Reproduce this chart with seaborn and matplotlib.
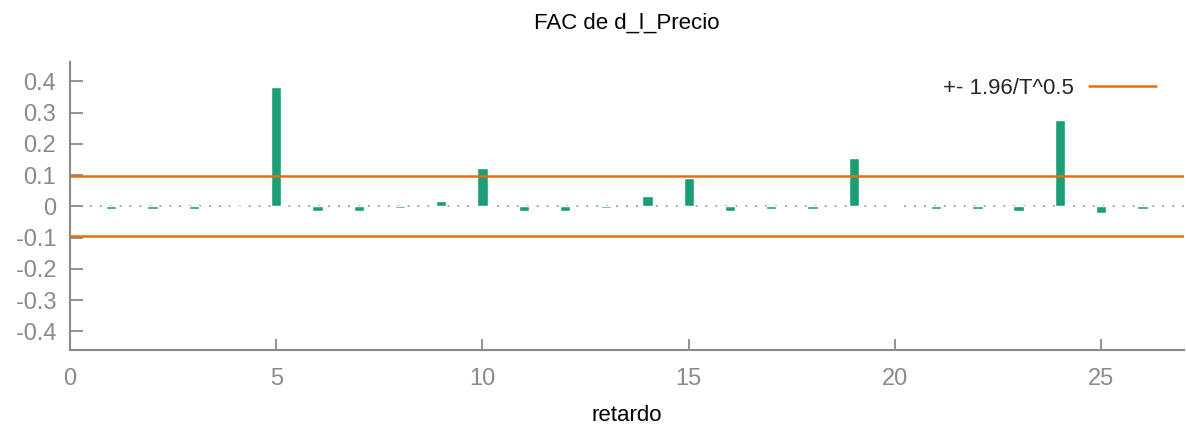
import numpy as np
import pandas as pd
import matplotlib
matplotlib.use('Agg')
import matplotlib.pyplot as plt
import seaborn as sns

# datos de la FAC
lags = list(range(1, 27))
acf = [-0.008, -0.008, -0.009, 0.001, 0.381, -0.015, -0.014, -0.007, 0.018, 0.123,
       -0.014, -0.015, -0.007, 0.033, 0.092, -0.014, -0.008, -0.008, 0.155, 0.004,
       -0.008, -0.008, -0.014, 0.276, -0.021, -0.008]
band = 0.096  # 1.96/T^0.5
xticks = [0, 5, 10, 15, 20, 25]
yticks = [0.4, 0.3, 0.2, 0.1, 0, -0.1, -0.2, -0.3, -0.4]

sns.set_theme(style='white')
plt.rcParams['font.family'] = ['Liberation Sans', 'DejaVu Sans']

df = pd.DataFrame({'lag': lags, 'acf': acf})
green = '#1b9e77'
orange = '#e6700f'
grey = '#8a8a8a'

fig = plt.figure(figsize=(11.86, 4.28), dpi=100)
ax = fig.add_axes([0.059, 0.182, 0.939, 0.672])

ax.axhline(0, color='#999999', lw=1.3, ls=(0, (1, 4.5)), zorder=1)
sns.barplot(data=df, x='lag', y='acf', native_scale=True, width=0.25,
            color=green, saturation=1, errorbar=None, ax=ax, zorder=2)
ax.axhline(band, color=orange, lw=1.8, label='+- 1.96/T^0.5', zorder=3)
ax.axhline(-band, color=orange, lw=1.8, zorder=3)

ax.set_xlim(0, 27)
ax.set_ylim(-0.46, 0.46)
ax.set_xticks(xticks)
ax.set_yticks(yticks)
ax.set_yticklabels(['0.4', '0.3', '0.2', '0.1', '0', '-0.1', '-0.2', '-0.3', '-0.4'])

for s in ['top', 'right']:
    ax.spines[s].set_visible(False)
for s in ['left', 'bottom']:
    ax.spines[s].set_color(grey)
    ax.spines[s].set_linewidth(1.5)
ax.tick_params(axis='both', direction='in', colors=grey, labelcolor=grey,
               labelsize=17, width=1.3)
ax.tick_params(axis='y', length=9, pad=10, left=True)
ax.tick_params(axis='x', length=8, pad=13, bottom=True)

ax.set_title('FAC de d_l_Precio', fontsize=16, color='black', pad=24)
ax.set_xlabel('retardo', fontsize=16, color='black', labelpad=11)
ax.set_ylabel('')

ax.legend(loc='upper right', frameon=False, fontsize=16, markerfirst=False,
          handlelength=3.0, handletextpad=0.7, bbox_to_anchor=(0.993, 1.015))

plt.savefig('out.png', dpi=100)
